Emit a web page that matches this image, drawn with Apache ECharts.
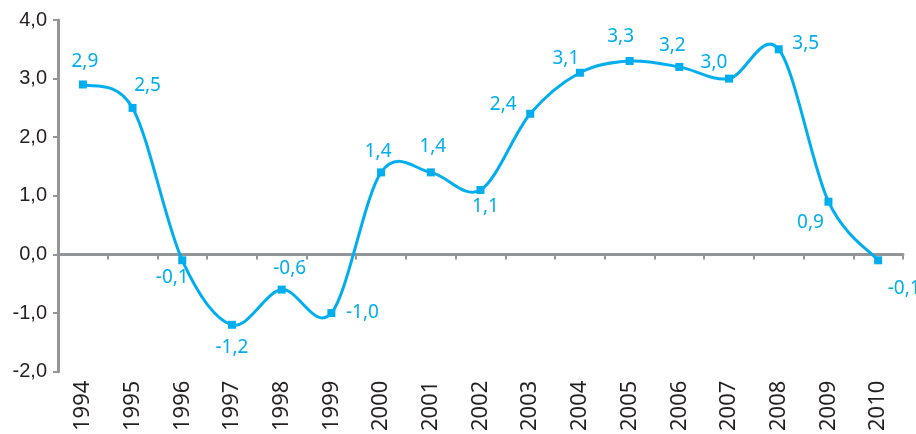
<!DOCTYPE html>
<html>
<head>
<meta charset="utf-8">
<script src="https://cdn.jsdelivr.net/npm/echarts@6/dist/echarts.min.js"></script>
<style>
  html, body { margin: 0; padding: 0; background: #fff; }
  #chart { width: 916px; height: 434px; }
</style>
</head>
<body>
<div id="chart"></div>
<script>
// Annual values, 1994–2010
const years = ['1994','1995','1996','1997','1998','1999','2000','2001','2002',
               '2003','2004','2005','2006','2007','2008','2009','2010'];
const values = [2.9, 2.5, -0.1, -1.2, -0.6, -1.0, 1.4, 1.4, 1.1,
                2.4, 3.1, 3.3, 3.2, 3.0, 3.5, 0.9, -0.1];
const yMin = -2, yMax = 4, yStep = 1;

// Per-point label shift (px) so labels sit clear of the curve
const labelShift = [
  [2,-23],[15,-22],[-10,17],[0,23],[8,-21],[31,0],[-3,-21],[2,-26],[5,17],
  [-27,-9],[-14,-14],[-9,-24],[-7,-21],[-15,-16],[27,-6],[-18,21],[26,28]
];

const blue = '#00aeef';
const axisGray = '#939598';
const textDark = '#231f20';
const fmt = v => v.toFixed(1).replace('.', ',');

// Catmull-Rom style smoothing: one cubic segment between neighbouring points
function renderSegment(params, api) {
  const i = params.dataIndex;
  const n = values.length;
  if (i >= n - 1) return null;
  const pt = k => {
    const j = Math.min(Math.max(k, 0), n - 1);
    return api.coord([j, values[j]]);
  };
  const p0 = pt(i - 1), p1 = pt(i), p2 = pt(i + 1), p3 = pt(i + 2);
  const t = 1 / 6;
  return {
    type: 'bezierCurve',
    shape: {
      x1: p1[0], y1: p1[1],
      x2: p2[0], y2: p2[1],
      cpx1: p1[0] + (p2[0] - p0[0]) * t, cpy1: p1[1] + (p2[1] - p0[1]) * t,
      cpx2: p2[0] - (p3[0] - p1[0]) * t, cpy2: p2[1] - (p3[1] - p1[1]) * t
    },
    style: { stroke: blue, lineWidth: 3, fill: null, lineCap: 'round' }
  };
}

const chart = echarts.init(document.getElementById('chart'), null, { renderer: 'canvas' });

chart.setOption({
  animation: false,
  grid: { left: 58, right: 13, top: 20, bottom: 60 },
  xAxis: [
    {
      // zero line with category ticks
      type: 'category',
      data: years,
      boundaryGap: true,
      axisLine: { onZero: true, lineStyle: { color: axisGray, width: 3 } },
      axisTick: { show: true, length: 5, lineStyle: { color: axisGray, width: 2 } },
      axisLabel: { show: false },
      splitLine: { show: false }
    },
    {
      // year labels along the bottom
      type: 'category',
      data: years,
      position: 'bottom',
      boundaryGap: true,
      axisLine: { show: false, onZero: false },
      axisTick: { show: false },
      axisLabel: {
        rotate: 90, margin: 9, interval: 0,
        fontFamily: 'Noto Sans', fontSize: 22, color: textDark
      }
    }
  ],
  yAxis: {
    type: 'value',
    min: yMin, max: yMax, interval: yStep,
    axisLine: { show: true, lineStyle: { color: axisGray, width: 3 } },
    axisTick: { show: true, length: 5, lineStyle: { color: axisGray, width: 2 } },
    splitLine: { show: false },
    axisLabel: {
      margin: 11,
      fontFamily: 'Liberation Sans', fontSize: 20, color: textDark,
      formatter: v => fmt(v)
    }
  },
  series: [
    {
      type: 'custom',
      xAxisIndex: 0,
      yAxisIndex: 0,
      clip: false,
      z: 2,
      renderItem: renderSegment,
      data: values.map((v, i) => [i, v])
    },
    {
      type: 'line',
      xAxisIndex: 0,
      z: 3,
      symbol: 'rect',
      symbolSize: 8,
      lineStyle: { opacity: 0 },
      itemStyle: { color: blue },
      data: values.map((v, i) => ({
        value: v,
        label: {
          show: true,
          position: 'inside',
          offset: labelShift[i],
          formatter: p => fmt(p.value),
          fontFamily: 'Noto Sans', fontSize: 19, color: blue
        }
      }))
    }
  ]
});
</script>
</body>
</html>
